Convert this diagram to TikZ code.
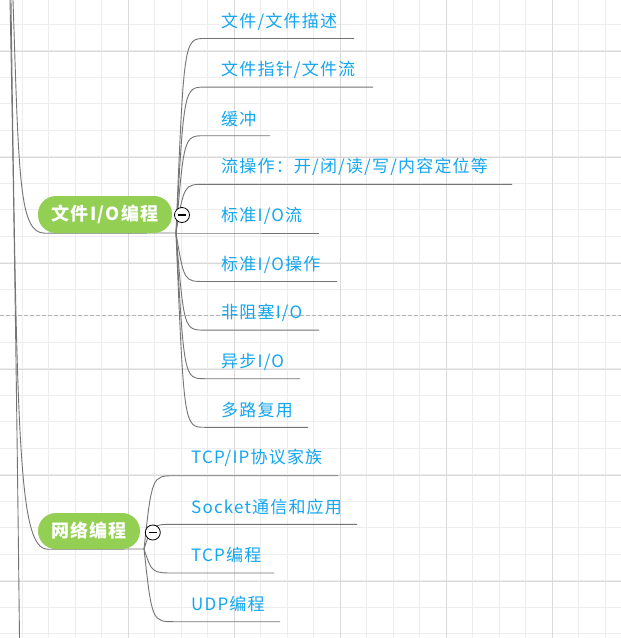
\documentclass[tikz,border=0pt]{standalone}
\usepackage{fontspec}
\setmainfont{Noto Sans CJK SC}[LetterSpace=7]
\usetikzlibrary{backgrounds,calc}
\definecolor{gridminor}{HTML}{EDEDED}
\definecolor{gridmajor}{HTML}{D9D9D9}
\definecolor{pagebreak}{HTML}{B4B4B4}
\definecolor{topicgreen}{HTML}{92CF52}
\definecolor{leafblue}{HTML}{14A6EE}
\definecolor{linegray}{HTML}{747474}
\begin{document}
\begin{tikzpicture}[x=1pt,y=-1pt,
  conn/.style={draw=linegray, line width=0.9pt},
  leaf/.style={anchor=west, inner sep=0pt, text=leafblue, font=\fontsize{17}{19}\selectfont},
  topic/.style={fill=topicgreen, text=white, rounded corners=18pt, inner sep=0pt,
    font=\fontsize{18}{20}\selectfont\bfseries},
  fold/.style={circle, draw=black, fill=white, line width=0.8pt, minimum size=15pt, inner sep=0pt}]
\useasboundingbox (0,0) rectangle (621,638);

% ---- nodes ----
\node[topic, minimum width=134pt, minimum height=37pt] (t1) at (105,214.5) {文件I/O编程};
\node[topic, minimum width=102pt, minimum height=36pt] (t2) at (89,531) {网络编程};
\node[fold] (fc1) at (182,215) {};
\node[fold] (fc2) at (152.8,532.5) {};
\draw[line width=1.1pt] ([xshift=-4pt]fc1.center) -- ([xshift=4pt]fc1.center);
\draw[line width=1.1pt] ([xshift=-4pt]fc2.center) -- ([xshift=4pt]fc2.center);

\node[leaf] (f1) at (221,21.5) {文件/文件描述};
\node[leaf] (f2) at (221,70.1) {文件指针/文件流};
\node[leaf] (f3) at (221,118.7) {缓冲};
\node[leaf] (f4) at (221,167.3) {流操作：开/闭/读/写/内容定位等};
\node[leaf] (f5) at (221,215.9) {标准I/O流};
\node[leaf] (f6) at (221,264.5) {标准I/O操作};
\node[leaf] (f7) at (221,313.1) {非阻塞I/O};
\node[leaf] (f8) at (221,361.7) {异步I/O};
\node[leaf] (f9) at (221,410.3) {多路复用};

\node[leaf] (n1) at (191,458.2) {TCP/IP协议家族};
\node[leaf] (n2) at (191,506.8) {Socket通信和应用};
\node[leaf] (n3) at (191,555.4) {TCP编程};
\node[leaf] (n4) at (191,604.0) {UDP编程};

% ---- connector end points ----
\coordinate (h1) at (176,233);
\coordinate (h2) at (144,549);
\coordinate (rA) at (13,0);
\coordinate (rB) at (10,0);
\coordinate (rBend) at (19.5,638);
\coordinate (rC) at (11,0);

\coordinate (s1) at (205,38.5);  \coordinate (e1) at (354,38.5);
\coordinate (s2) at (205,87.1);  \coordinate (e2) at (373,87.1);
\coordinate (s3) at (205,135.7); \coordinate (e3) at (270,135.7);
\coordinate (s4) at (205,184.3); \coordinate (e4) at (512,184.3);
\coordinate (s5) at (205,233);   \coordinate (e5) at (319,233);
\coordinate (s6) at (205,281.5); \coordinate (e6) at (337,281.5);
\coordinate (s7) at (205,330.1); \coordinate (e7) at (319,330.1);
\coordinate (s8) at (205,378.7); \coordinate (e8) at (300,378.7);
\coordinate (s9) at (205,427.3); \coordinate (e9) at (308,427.3);

\coordinate (m1) at (175,475.7); \coordinate (k1) at (338,475.7);
\coordinate (m2) at (175,524.3); \coordinate (k2) at (357,524.3);
\coordinate (m3) at (175,573);   \coordinate (k3) at (274,573);
\coordinate (m4) at (175,621.7); \coordinate (k4) at (280,621.7);

\begin{scope}[on background layer]
  % white page and grid
  \fill[white] (0,0) rectangle (621,638);
  \foreach \i in {0,...,22} \draw[gridminor, line width=1pt] (22+26.5*\i,0) -- ++(0,638);
  \foreach \i in {0,...,23} \draw[gridminor, line width=1pt] (0,24+26.5*\i) -- ++(621,0);
  \foreach \i in {1,...,5} \draw[gridmajor, line width=1pt] (22+106*\i,0) -- ++(0,638);
  \foreach \i in {0,...,5} \draw[gridmajor, line width=1pt] (0,51+106*\i) -- ++(621,0);
  \draw[pagebreak, line width=1pt, dash pattern=on 4pt off 2pt] (0,315.5) -- (621,315.5);

  % root connectors
  \draw[conn] (rA) .. controls (19,180) and (19,233) .. ([xshift=7pt]t1.south west) -- (h1);
  \draw[conn] (rB) .. controls (14,200) and (17,420) .. (rBend);
  \draw[conn] (rC) .. controls (17,440) and (18,549) .. ([xshift=10pt]t2.south west) -- (h2);

  % file I/O children
  \draw[conn] (h1) .. controls (184,38.5) .. (s1) -- (e1);
  \draw[conn] (h1) .. controls (184,87.1) .. (s2) -- (e2);
  \draw[conn] (h1) .. controls (184,135.7) .. (s3) -- (e3);
  \draw[conn] (h1) .. controls (184,184.3) .. (s4) -- (e4);
  \draw[conn] (h1) -- (s5) -- (e5);
  \draw[conn] (h1) .. controls (184,281.5) .. (s6) -- (e6);
  \draw[conn] (h1) .. controls (184,330.1) .. (s7) -- (e7);
  \draw[conn] (h1) .. controls (184,378.7) .. (s8) -- (e8);
  \draw[conn] (h1) .. controls (184,427.3) .. (s9) -- (e9);

  % network children
  \draw[conn] (h2) .. controls (152,475.7) .. (m1) -- (k1);
  \draw[conn] (h2) .. controls (152,524.3) .. (m2) -- (k2);
  \draw[conn] (h2) .. controls (152,573) .. (m3) -- (k3);
  \draw[conn] (h2) .. controls (152,621.7) .. (m4) -- (k4);
\end{scope}
\end{tikzpicture}
\end{document}
